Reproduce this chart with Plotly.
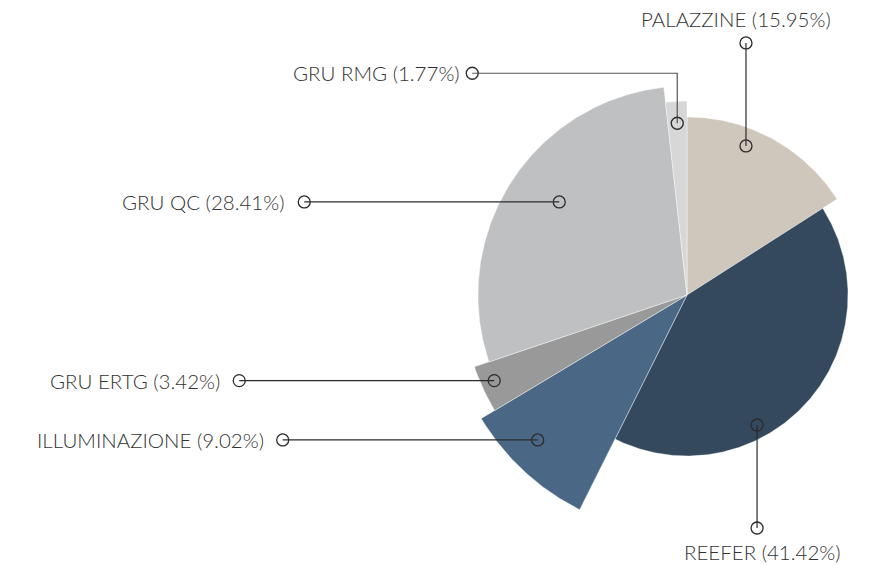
import math
import plotly.graph_objects as go

# ---- data ----
categories = ["PALAZZINE", "REEFER", "ILLUMINAZIONE", "GRU ERTG", "GRU QC", "GRU RMG"]
shares = [15.95, 41.42, 9.02, 3.42, 28.41, 1.77]          # percent
radius_index = [74.2, 67.1, 100.0, 93.5, 87.1, 80.8]       # relative radius (max = 100)

# ---- styling / layout ----
colors = ["#cfc6bc", "#34495e", "#4a6886", "#989998", "#bfc0c2", "#d7d7d8"]
# label placement: (fraction of slice angle, fraction of slice radius, route)
label_layout = [
    (0.376, 0.90, "up"),
    (0.632, 0.917, "down"),
    (0.594, 0.867, "left"),
    (0.57, 0.94, "left"),
    (0.535, 0.756, "left"),
    (0.49, 0.887, "upleft"),
]
W, H = 877, 565
CX, CY = 687, 295            # pie centre in pixels
R_MAX = 240                  # pixel radius of index 100
LEAD_H = 255                 # horizontal leader length
LEAD_V = 103                 # vertical leader length
LEAD_UP = 50                 # first leg for up-left route
FONT = dict(family="Lato, 'Open Sans', sans-serif", size=20.5, color="#333333", weight=300)
LINE_COL = "#2b2b2b"

fig = go.Figure()

total = sum(shares)
start = 0.0
for name, val, ri, col, lay in zip(categories, shares, radius_index, colors, label_layout):
    a0 = start / total * 360.0
    a1 = (start + val) / total * 360.0
    start += val
    r = ri / 100.0 * R_MAX
    n = max(int((a1 - a0) * 2), 4)
    xs, ys = [0.0], [0.0]
    for i in range(n + 1):
        t = math.radians(a0 + (a1 - a0) * i / n)
        xs.append(r * math.sin(t))
        ys.append(r * math.cos(t))
    xs.append(0.0)
    ys.append(0.0)
    fig.add_trace(go.Scatter(x=xs, y=ys, mode="lines", fill="toself", fillcolor=col,
                             line=dict(color="rgba(255,255,255,0.7)", width=0.6),
                             hoverinfo="text", text=f"{name} ({val:.2f}%)", showlegend=False))

# leader lines and labels
start = 0.0
for name, val, ri, lay in zip(categories, shares, radius_index, label_layout):
    a0 = start / total * 360.0
    a1 = (start + val) / total * 360.0
    start += val
    fa, fr, route = lay
    ang = math.radians(a0 + (a1 - a0) * fa)
    rr = ri / 100.0 * R_MAX * fr
    x0, y0 = rr * math.sin(ang), rr * math.cos(ang)
    if route == "up":
        px, py = [x0, x0], [y0, y0 + LEAD_V]
    elif route == "down":
        px, py = [x0, x0], [y0, y0 - LEAD_V]
    elif route == "left":
        px, py = [x0, x0 - LEAD_H], [y0, y0]
    else:
        px = [x0, x0, x0 - (LEAD_H - LEAD_UP)]
        py = [y0, y0 + LEAD_UP, y0 + LEAD_UP]
    fig.add_trace(go.Scatter(x=px, y=py, mode="lines",
                             line=dict(color=LINE_COL if route != "upleft" else "#555555", width=1.2),
                             hoverinfo="skip", showlegend=False))
    fig.add_trace(go.Scatter(x=[px[0], px[-1]], y=[py[0], py[-1]], mode="markers",
                             marker=dict(symbol="circle-open", size=12, color=LINE_COL,
                                         line=dict(color=LINE_COL, width=1.3)),
                             hoverinfo="skip", showlegend=False))
    label = f"{name} ({val:.2f}%)"
    ex, ey = px[-1], py[-1]
    if route == "up":
        fig.add_annotation(x=ex - 10, y=ey + 10, text=label, showarrow=False,
                           xanchor="center", yanchor="bottom", font=FONT)
    elif route == "down":
        fig.add_annotation(x=ex + 5, y=ey - 10, text=label, showarrow=False,
                           xanchor="center", yanchor="top", font=FONT)
    else:
        gap = 17 if route == "left" else 10
        fig.add_annotation(x=ex - gap, y=ey, text=label, showarrow=False,
                           xanchor="right", yanchor="middle", font=FONT)

fig.update_layout(
    width=W, height=H,
    margin=dict(l=0, r=0, t=0, b=0),
    paper_bgcolor="white", plot_bgcolor="white",
    xaxis=dict(range=[-CX, W - CX], visible=False, fixedrange=True),
    yaxis=dict(range=[-(H - CY), CY], visible=False, fixedrange=True),
    showlegend=False,
)

fig.write_html("out.html", config={"displayModeBar": False},
               post_script="document.body.style.margin='0';")
